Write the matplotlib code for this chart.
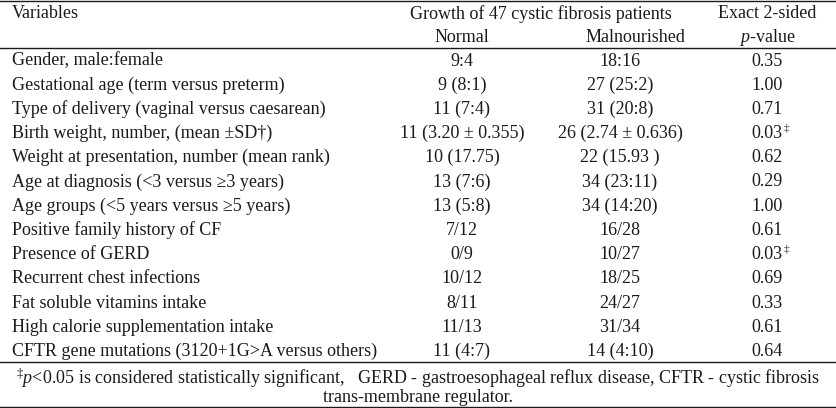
import matplotlib.pyplot as plt

plt.rcParams['font.family'] = ['Liberation Serif', 'DejaVu Serif']
plt.rcParams['mathtext.fontset'] = 'custom'
plt.rcParams['mathtext.rm'] = 'Liberation Serif'
plt.rcParams['mathtext.it'] = 'Liberation Serif:italic'

variables = [
    'Gender, male:female',
    'Gestational age (term versus preterm)',
    'Type of delivery (vaginal versus caesarean)',
    'Birth weight, number, (mean \u00b1SD\u2020)',
    'Weight at presentation, number (mean rank)',
    'Age at diagnosis (<3 versus \u22653 years)',
    'Age groups (<5 years versus \u22655 years)',
    'Positive family history of CF',
    'Presence of GERD',
    'Recurrent chest infections',
    'Fat soluble vitamins intake',
    'High calorie supplementation intake',
    'CFTR gene mutations (3120+1G>A versus others)',
]
normal = ['9:4', '9 (8:1)', '11 (7:4)', '11 (3.20 \u00b1 0.355)', '10 (17.75)',
          '13 (7:6)', '13 (5:8)', '7/12', '0/9', '10/12', '8/11', '11/13',
          '11 (4:7)']
malnourished = ['18:16', '27 (25:2)', '31 (20:8)', '26 (2.74 \u00b1 0.636)',
                '22 (15.93 )', '34 (23:11)', '34 (14:20)', '16/28', '10/27',
                '18/25', '24/27', '31/34', '14 (4:10)']
pvals = ['0.35', '1.00', '0.71', '0.03', '0.62', '0.29', '1.00', '0.61',
         '0.03', '0.69', '0.33', '0.61', '0.64']
significant = [False, False, False, True, False, False, False, False,
               True, False, False, False, False]

W, H = 837, 408
fig = plt.figure(figsize=(W / 100, H / 100), dpi=100)
ax = fig.add_axes([0, 0, 1, 1])
ax.set_xlim(0, W)
ax.set_ylim(H, 0)
ax.axis('off')

fs = 13
col = '#1a1a1a'
x_var, x_norm, x_mal, x_p = 12, 462, 620, 767

# header
ax.text(x_var, 14, 'Variables', fontsize=fs, color=col, va='center')
ax.text(541, 14, 'Growth of 47 cystic fibrosis patients', fontsize=fs,
        color=col, ha='center', va='center')
ax.text(x_p, 14, 'Exact 2-sided', fontsize=fs, color=col, ha='center', va='center')
ax.text(x_norm, 37, 'Normal', fontsize=fs, color=col, ha='center', va='center')
ax.text(635, 37, 'Malnourished', fontsize=fs, color=col, ha='center', va='center')
ax.text(x_p, 37, r'$\mathit{p}$-value', fontsize=fs, color=col, ha='center',
        va='center')

# rules
for y in [1, 48, 362, 407]:
    ax.plot([0, W], [y, y], color=col, lw=1.0)

# body
y0, dy = 61, 24.2
for i in range(len(variables)):
    y = y0 + i * dy
    ax.text(x_var, y, variables[i], fontsize=fs, color=col, va='center')
    ax.text(x_norm, y, normal[i], fontsize=fs, color=col, ha='center', va='center')
    ax.text(x_mal, y, malnourished[i], fontsize=fs, color=col, ha='center',
            va='center')
    t = ax.text(x_p, y, pvals[i], fontsize=fs, color=col, ha='center', va='center')
    if significant[i]:
        ax.annotate('\u2021', xy=(1, 1), xycoords=t, xytext=(0.5, 1.5),
                    textcoords='offset points', fontsize=8, color=col,
                    ha='left', va='top')

# footnote
ax.text(W / 2, 378, r'$^{\ddagger}\mathit{p}$<0.05 is considered statistically '
        r'significant,   GERD - gastroesophageal reflux disease, CFTR - cystic fibrosis',
        fontsize=fs, color=col, ha='center', va='center')
ax.text(W / 2, 397, 'trans-membrane regulator.', fontsize=fs, color=col,
        ha='center', va='center')

fig.savefig('out.png', dpi=100)
